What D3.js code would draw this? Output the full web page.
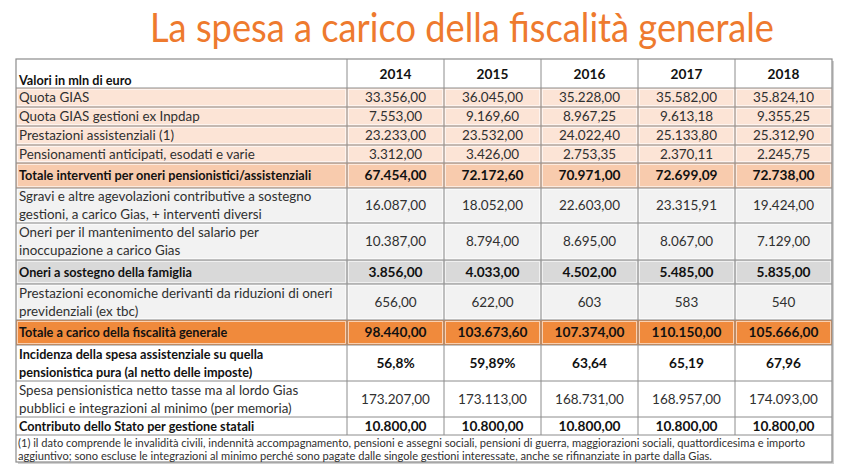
<!DOCTYPE html>
<html><head><meta charset="utf-8">
<script src="https://cdn.jsdelivr.net/npm/d3@7"></script>
<style>body{margin:0;background:#fff}svg{display:block}</style>
</head><body>
<script>
// ---- data ----
const title = "La spesa a carico della fiscalità generale";
const headerLabel = "Valori in mln di euro";
const years = ["2014","2015","2016","2017","2018"];
const rowLabels = [
  ["Quota GIAS"],
  ["Quota GIAS gestioni ex Inpdap"],
  ["Prestazioni assistenziali (1)"],
  ["Pensionamenti anticipati, esodati e varie"],
  ["Totale interventi per oneri pensionistici/assistenziali"],
  ["Sgravi e altre agevolazioni contributive a sostegno","gestioni, a carico Gias, + interventi diversi"],
  ["Oneri per il mantenimento del salario per","inoccupazione a carico Gias"],
  ["Oneri a sostegno della famiglia"],
  ["Prestazioni economiche derivanti da riduzioni di oneri","previdenziali (ex tbc)"],
  ["Totale a carico della fiscalità generale"],
  ["Incidenza della spesa assistenziale su quella","pensionistica pura (al netto delle imposte)"],
  ["Spesa pensionistica netto tasse ma al lordo Gias","pubblici e integrazioni al minimo (per memoria)"],
  ["Contributo dello Stato per gestione statali"]
];
const quotaGias        = ["33.356,00","36.045,00","35.228,00","35.582,00","35.824,10"];
const quotaGiasInpdap  = ["7.553,00","9.169,60","8.967,25","9.613,18","9.355,25"];
const prestAssist      = ["23.233,00","23.532,00","24.022,40","25.133,80","25.312,90"];
const pensionamenti    = ["3.312,00","3.426,00","2.753,35","2.370,11","2.245,75"];
const totaleInterventi = ["67.454,00","72.172,60","70.971,00","72.699,09","72.738,00"];
const sgravi           = ["16.087,00","18.052,00","22.603,00","23.315,91","19.424,00"];
const oneriSalario     = ["10.387,00","8.794,00","8.695,00","8.067,00","7.129,00"];
const oneriFamiglia    = ["3.856,00","4.033,00","4.502,00","5.485,00","5.835,00"];
const prestEconomiche  = ["656,00","622,00","603","583","540"];
const totaleFiscalita  = ["98.440,00","103.673,60","107.374,00","110.150,00","105.666,00"];
const incidenza        = ["56,8%","59,89%","63,64","65,19","67,96"];
const spesaPension     = ["173.207,00","173.113,00","168.731,00","168.957,00","174.093,00"];
const contributoStato  = ["10.800,00","10.800,00","10.800,00","10.800,00","10.800,00"];
const footnoteLines = [
  "(1) il dato comprende le invalidità civili, indennità accompagnamento, pensioni e assegni sociali, pensioni di guerra, maggiorazioni sociali, quattordicesima e importo",
  "aggiuntivo; sono escluse le integrazioni al minimo perché sono pagate dalle singole gestioni interessate, anche se rifinanziate in parte dalla Gias."
];
const rowValues = [quotaGias, quotaGiasInpdap, prestAssist, pensionamenti, totaleInterventi,
  sgravi, oneriSalario, oneriFamiglia, prestEconomiche, totaleFiscalita, incidenza, spesaPension, contributoStato];

// ---- styles / layout ----
const W = 850, H = 471;
const rowStyle = [
  {h:19, fill:"#FCE4D6", bold:false},
  {h:19, fill:"#FCE4D6", bold:false},
  {h:19, fill:"#FCE4D6", bold:false},
  {h:18, fill:"#FCE4D6", bold:false},
  {h:25, fill:"#F8CBAD", bold:true},
  {h:35, fill:"#F2F2F2", bold:false},
  {h:37, fill:"#F2F2F2", bold:false},
  {h:24, fill:"#D9D9D9", bold:true},
  {h:36, fill:"#F2F2F2", bold:false},
  {h:25, fill:"#F08A3C", bold:true},
  {h:36, fill:"#FFFFFF", bold:true},
  {h:36, fill:"#FFFFFF", bold:false},
  {h:18, fill:"#FFFFFF", bold:true}
];
const tableX0 = 16, labelX1 = 347, tableX1 = 832;
const headerTop = 59, headerH = 29, footH = 27;
const font = "Lato, 'Open Sans', sans-serif";
const fsLabel = 13.4, fsLabelBold = 12.7, fsVal = 13.5, fsValBold = 13.7;
const txt = "#303030", txtBold = "#111";

const svg = d3.select("body").append("svg").attr("width", W).attr("height", H);

// title
svg.append("text").attr("x", 462).attr("y", 42).attr("text-anchor","middle")
  .attr("font-family", font).attr("font-size", 40).attr("fill", "#EE7A2E")
  .attr("textLength", 624).attr("lengthAdjust","spacingAndGlyphs").text(title);

// scales
const x = d3.scaleBand().domain(years).range([labelX1, tableX1]);
const tops = [];
let acc = headerTop + headerH;
rowStyle.forEach(r => { tops.push(acc); acc += r.h; });
const tableBottomRows = acc;
const y = d3.scaleOrdinal().domain(d3.range(rowLabels.length)).range(tops);

// table shadow
svg.append("rect").attr("x", tableX0+2).attr("y", headerTop+2)
  .attr("width", tableX1-tableX0).attr("height", tableBottomRows+footH-headerTop)
  .attr("fill", "#d0d0d0");
svg.append("rect").attr("x", tableX0).attr("y", headerTop)
  .attr("width", tableX1-tableX0).attr("height", tableBottomRows+footH-headerTop)
  .attr("fill", "#fff");

// row backgrounds
const rows = svg.selectAll("g.row").data(rowLabels).join("g").attr("class","row")
  .attr("transform", (d,i) => `translate(0,${y(i)})`);
rows.append("rect").attr("x", tableX0).attr("y", 0)
  .attr("width", tableX1-tableX0).attr("height", (d,i)=>rowStyle[i].h)
  .attr("fill", (d,i)=>rowStyle[i].fill);

// inner light grid in colored rows
rows.each(function(d,i){
  const g = d3.select(this);
  if (rowStyle[i].fill !== "#FFFFFF") {
    g.append("rect").attr("x", tableX0+1.5).attr("y", 1.5)
      .attr("width", labelX1-tableX0-3).attr("height", rowStyle[i].h-3)
      .attr("fill","none").attr("stroke","#fff").attr("stroke-opacity",0.6);
    years.forEach(yr=>{
      g.append("rect").attr("x", x(yr)+1.5).attr("y", 1.5)
        .attr("width", x.bandwidth()-3).attr("height", rowStyle[i].h-3)
        .attr("fill","none").attr("stroke","#fff").attr("stroke-opacity",0.6);
    });
  }
});

// labels and values
rows.each(function(lines,i){
  const g = d3.select(this);
  const b = rowStyle[i].bold;
  const h = rowStyle[i].h, n = lines.length, lh = 18;
  const c = h/2;
  const fl = b ? fsLabelBold : fsLabel, fv = b ? fsValBold : fsVal;
  lines.forEach((t,k)=>{
    g.append("text").attr("x", tableX0+3)
      .attr("y", c + (k-(n-1)/2)*lh + fl*0.36)
      .attr("font-family", font).attr("font-size", fl)
      .attr("font-weight", b ? 700 : 400)
      .attr("fill", b ? txtBold : txt).text(t);
  });
  g.selectAll("text.v").data(rowValues[i]).join("text").attr("class","v")
    .attr("x", (v,j)=>x(years[j]) + x.bandwidth()/2)
    .attr("y", c + fv*0.36).attr("text-anchor","middle")
    .attr("font-family", font).attr("font-size", fv)
    .attr("font-weight", b ? 700 : 400)
    .attr("fill", b ? txtBold : txt).text(v=>v);
});

// header
svg.append("text").attr("x", tableX0+3).attr("y", headerTop+headerH-3)
  .attr("font-family", font).attr("font-size", fsLabelBold).attr("font-weight",700)
  .attr("fill",txtBold).text(headerLabel);
svg.selectAll("text.yr").data(years).join("text").attr("class","yr")
  .attr("x", d=>x(d)+x.bandwidth()/2).attr("y", headerTop+19.5)
  .attr("text-anchor","middle").attr("font-family", font).attr("font-size", fsValBold)
  .attr("font-weight",700).attr("fill",txtBold).text(d=>d);

// grid lines
const gridColor = "#8c8c8c";
const hLines = [headerTop+headerH, ...tops.slice(1), tableBottomRows];
svg.selectAll("line.h").data(hLines).join("line").attr("class","h")
  .attr("x1", tableX0).attr("x2", tableX1).attr("y1", d=>d).attr("y2", d=>d)
  .attr("stroke", gridColor).attr("stroke-width", 1);
const vLines = [labelX1, ...years.slice(1).map(d=>x(d))];
svg.selectAll("line.v").data(vLines).join("line").attr("class","v")
  .attr("x1", d=>d).attr("x2", d=>d).attr("y1", headerTop).attr("y2", tableBottomRows)
  .attr("stroke", gridColor).attr("stroke-width", 1);
svg.append("rect").attr("x", tableX0).attr("y", headerTop)
  .attr("width", tableX1-tableX0).attr("height", tableBottomRows+footH-headerTop)
  .attr("fill","none").attr("stroke", gridColor).attr("stroke-width", 1.2);

// footnote
const footLen = [787, 694];
footnoteLines.forEach((t,k)=>{
  svg.append("text").attr("x", tableX0+2).attr("y", tableBottomRows + 12 + k*13)
    .attr("font-family", font).attr("font-size", 10.5)
    .attr("fill",txt).attr("textLength", footLen[k])
    .attr("lengthAdjust","spacingAndGlyphs").text(t);
});
</script>
</body></html>
